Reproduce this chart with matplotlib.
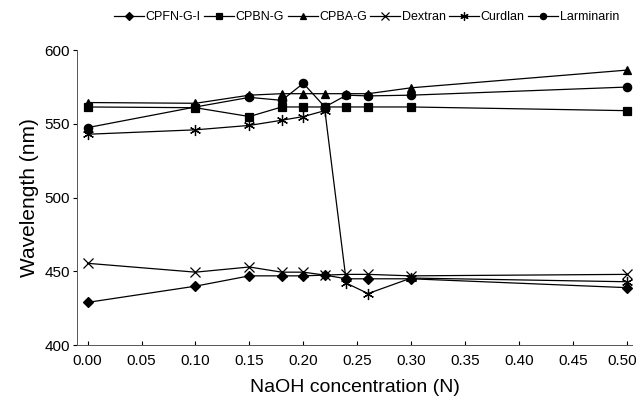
import matplotlib
matplotlib.use("Agg")
import matplotlib.pyplot as plt
from matplotlib.transforms import ScaledTranslation

plt.rcParams['font.family'] = ['Liberation Sans', 'DejaVu Sans']

x = [0.0, 0.10, 0.15, 0.18, 0.20, 0.22, 0.24, 0.26, 0.30, 0.50]
cpfn = [429, 440, 447, 447, 447, 447.5, 445, 445, 445, 439]
cpbn = [561.5, 561, 555, 561.5, 561.5, 561.5, 561.5, 561.5, 561.5, 559]
cpba = [564.5, 564, 569.5, 570.5, 570.5, 570.5, 570.5, 570.5, 574.5, 586.5]
dextran = [455.5, 449.5, 453, 449.5, 449.5, 447.5, 448, 448, 447, 448]
curdlan = [543, 546, 549, 552.5, 555, 559, 442, 435, 445.5, 443]
larminarin = [547.5, 561.5, 568, 566, 577.5, 561.5, 569.5, 569, 569.5, 575]

series = [
    ("CPFN-G-I", cpfn, "D", 5),
    ("CPBN-G", cpbn, "s", 5.5),
    ("CPBA-G", cpba, "^", 6),
    ("Dextran", dextran, "x", 7),
    ("Curdlan", curdlan, (6, 2, 0), 8),
    ("Larminarin", larminarin, "o", 6),
]

xticks = [0.00, 0.05, 0.10, 0.15, 0.20, 0.25, 0.30, 0.35, 0.40, 0.45, 0.50]
yticks = [400, 450, 500, 550, 600]

fig = plt.figure(figsize=(6.4, 4.08), dpi=100)
ax = fig.add_axes([0.120, 0.154, 0.868, 0.723])

for name, vals, m, ms in series:
    ax.plot(x, vals, color='black', lw=0.9, marker=m, markersize=ms,
            markerfacecolor='black', markeredgecolor='black', markeredgewidth=0.9,
            label=name)

ax.set_xlim(-0.01, 0.505)
ax.set_ylim(400, 600)
ax.set_xticks(xticks)
ax.set_xticklabels([f"{t:.2f}" for t in xticks])
ax.set_yticks(yticks)
ax.spines['top'].set_visible(False)
ax.spines['right'].set_visible(False)
for s in ['left', 'bottom']:
    ax.spines[s].set_linewidth(0.7)
    ax.spines[s].set_color('#555555')
ax.tick_params(axis='x', direction='in', length=3, labelsize=11, pad=6)
ax.tick_params(axis='y', direction='out', length=3, labelsize=11, pad=2)
lab = ax.get_xticklabels()[-1]
lab.set_horizontalalignment('right')
lab.set_transform(lab.get_transform() + ScaledTranslation(0.1, 0, fig.dpi_scale_trans))
ax.set_xlabel("NaOH concentration (N)", fontsize=14, labelpad=8)
ax.set_ylabel("Wavelength (nm)", fontsize=15, labelpad=4)

leg = fig.legend(loc='upper center', bbox_to_anchor=(0.573, 1.0), ncol=6,
                 frameon=False, fontsize=9, handlelength=2.4, handletextpad=0.1,
                 columnspacing=0.3, markerscale=0.75)

fig.savefig("out.png", dpi=100)
